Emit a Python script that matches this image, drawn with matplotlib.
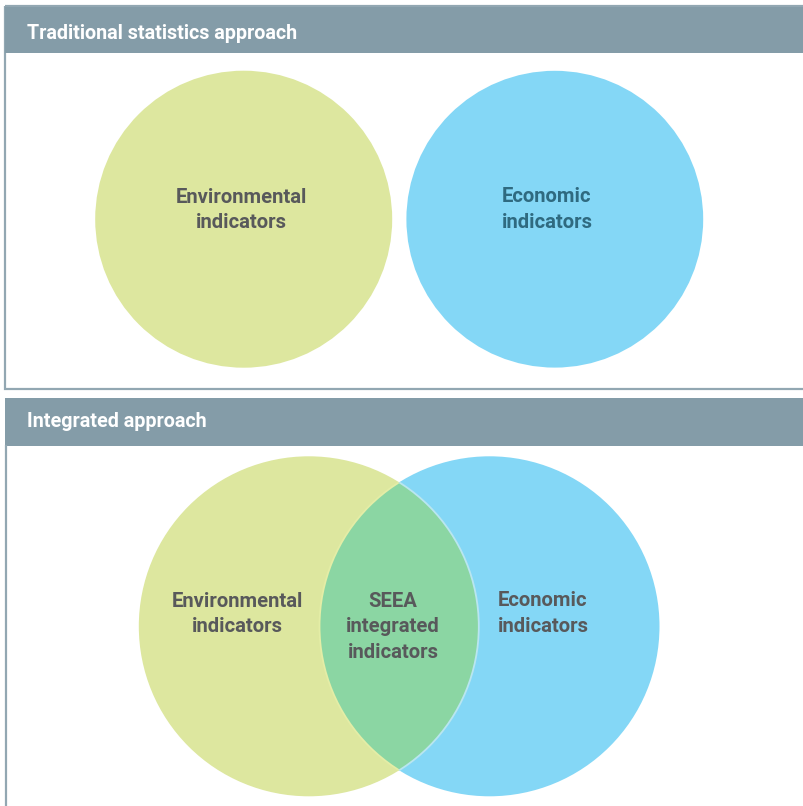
import matplotlib
matplotlib.use('Agg')
from matplotlib import pyplot as plt
from matplotlib.patches import Circle, Rectangle

# texts of the chart
panel_titles = ['Traditional statistics approach', 'Integrated approach']
top_labels = [['Environmental', 'indicators'], ['Economic', 'indicators']]
bottom_labels = [['Environmental', 'indicators'],
                 ['SEEA', 'integrated', 'indicators'],
                 ['Economic', 'indicators']]

W, H = 804, 806
plt.rcParams['font.family'] = ['Roboto', 'DejaVu Sans']

fig = plt.figure(figsize=(W / 100, H / 100), dpi=100)
ax = fig.add_axes([0, 0, 1, 1])
ax.set_xlim(0, W)
ax.set_ylim(H, 0)
ax.axis('off')

header_c = '#849ca8'
border_c = '#92a7b2'
env_c = '#dde79f'
eco_c = '#84d7f6'
both_c = '#8bd6a3'
txt_c = '#58595b'
fs = 14.6      # circle labels
fs_head = 14.2  # panel headers

# top panel frame + header
ax.add_patch(Rectangle((5.5, 5.5), W, 383.5, fill=False, ec=border_c, lw=1.6))
ax.add_patch(Rectangle((5, 6.5), W, 46, fc=header_c, ec='none'))
ax.text(27, 39.3, panel_titles[0], color='white', fontsize=fs_head, fontweight='bold',
        ha='left', va='baseline')

# bottom panel header + left border
ax.add_patch(Rectangle((5, 398), W, 48, fc=header_c, ec='none'))
ax.plot([6, 6], [446, H], color=border_c, lw=1.6)
ax.text(27, 426.7, panel_titles[1], color='white', fontsize=fs_head, fontweight='bold',
        ha='left', va='baseline')

# top: two separate circles
ax.add_patch(Circle((243.7, 219.2), 148.5, fc=env_c, ec='none'))
ax.add_patch(Circle((554.8, 219.2), 148.4, fc=eco_c, ec='none'))


def put_lines(x, baselines, lines, color):
    for yb, s in zip(baselines, lines):
        ax.text(x, yb, s, color=color, fontsize=fs, fontweight='bold',
                ha='center', va='baseline')


put_lines(241, [202.7, 228.0], top_labels[0], txt_c)
put_lines(547, [202.0, 228.0], top_labels[1], '#2f6a80')

# bottom: overlapping circles
r = 170
c_env = (308.8, 626.3)
c_eco = (489.5, 626.3)
env = Circle(c_env, r, fc=env_c, ec='none')
eco = Circle(c_eco, r, fc=eco_c, ec='none')
ax.add_patch(env)
ax.add_patch(eco)

lens = Circle(c_eco, r, fc=both_c, ec='none')
ax.add_patch(lens)
lens.set_clip_path(env)

edge1 = Circle(c_eco, r, fill=False, ec='#e4eda6', lw=1.3)
ax.add_patch(edge1)
edge1.set_clip_path(env)
edge2 = Circle(c_env, r, fill=False, ec='#b9e6f0', lw=1.3)
ax.add_patch(edge2)
edge2.set_clip_path(eco)

put_lines(237, [606.7, 632.3], bottom_labels[0], txt_c)
put_lines(393, [606.7, 632.3, 658.3], bottom_labels[1], txt_c)
put_lines(543, [605.7, 631.7], bottom_labels[2], txt_c)

fig.savefig('out.png', dpi=100, facecolor='white')
